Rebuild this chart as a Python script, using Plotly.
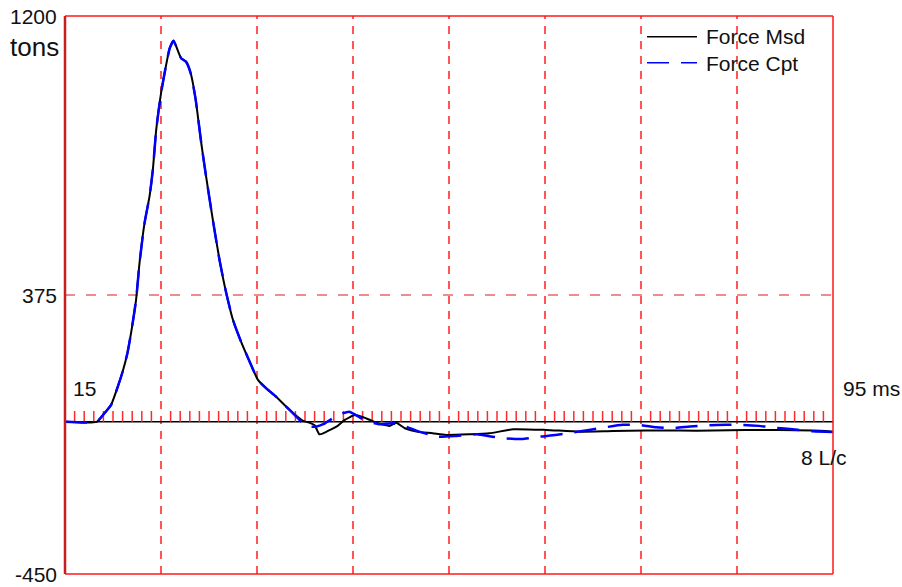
import plotly.graph_objects as go

# ---- data (time in ms, force in tons) ----
t_msd = [15, 18.3, 19.1, 19.8, 20.5, 21.0, 21.5, 21.9, 22.4, 22.76, 23.28, 23.8, 24.15, 24.5, 25.0,
         25.5, 25.9, 26.3, 26.6, 27.1, 27.6, 28.1, 28.6, 29.2, 29.7, 30.4, 31.1, 31.8, 32.5, 33.2,
         34.2, 35.1, 36.0, 37.0, 38.4, 39.8, 40.5, 41.0, 41.5, 41.9, 42.6, 43.4, 44.1, 45.2, 46.4,
         47.6, 48.8, 49.5, 50.4, 51.6, 53.3, 54.7, 57.2, 59.2, 61.7, 65.1, 68.6, 72.1, 75.5, 79.0,
         82.5, 85.9, 89.4, 92.9, 95]
f_msd = [0, 0, 25, 50, 104, 148, 203, 266, 360, 469, 587, 666, 745, 863, 971,
         1050, 1104, 1127, 1109, 1075, 1065, 1030, 955, 823, 725, 597, 478, 380, 301, 247,
         180, 124, 98, 74, 35, 3, -3, -10, -37, -34, -24, -12, 5, 20, 10,
         -4, -12, -3, -19, -29, -34, -39, -37, -34, -22, -24, -29, -27, -26, -26,
         -26, -24, -24, -26, -29]

t_cpt = [15, 18.3, 19.1, 19.8, 20.5, 21.0, 21.5, 21.9, 22.4, 22.76, 23.28, 23.8, 24.15, 24.5, 25.0,
         25.5, 25.9, 26.3, 26.6, 27.1, 27.6, 28.1, 28.6, 29.2, 29.7, 30.4, 31.1, 31.8, 32.5, 33.2,
         34.2, 35.1, 36.0, 37.0, 38.4, 39.8, 40.6, 41.2, 41.9, 42.6, 43.4, 44.6, 45.3, 46.2, 47.7,
         49.1, 50.5, 51.6, 53.8, 55.8, 57.9, 59.5, 60.9, 62.6, 64.4, 66.1, 67.8, 69.6, 71.3, 73.1,
         74.8, 76.6, 78.3, 80.1, 82.1, 83.9, 85.6, 87.3, 89.1, 90.8, 92.9, 95]
f_cpt = [0, 0, 25, 50, 104, 148, 203, 266, 360, 469, 587, 666, 745, 863, 971,
         1050, 1104, 1127, 1109, 1075, 1065, 1030, 955, 823, 725, 597, 478, 380, 301, 247,
         180, 124, 98, 74, 35, -4, -14, -14, -7, 5, 20, 30, 20, 5, -7,
         -4, -14, -26, -44, -42, -37, -44, -49, -51, -44, -39, -32, -24, -16, -9,
         -9, -16, -19, -14, -10, -9, -9, -12, -18, -22, -28, -30]

x_range = [15, 95]
y_range = [-450, 1200]
grid_times = [25, 35, 45, 55, 65, 75, 85]
grid_force = 375
tick_times = [t for t in range(16, 95) if t % 10 != 5]
tick_height = 32

# ---- layout geometry (pixels) ----
W, H = 902, 587
L, R, T, B = 65, 69, 16, 13
PW, PH = W - L - R, H - T - B


def px(x):
    return (x - L) / PW


def py(y):
    return (H - B - y) / PH


FONT = "Liberation Sans, Arial, sans-serif"

fig = go.Figure()

# small ms ticks on the zero line
tx, ty = [], []
for t in tick_times:
    tx += [t, t, None]
    ty += [0, tick_height, None]
fig.add_trace(go.Scatter(x=tx, y=ty, mode="lines", line=dict(color="#ff2a2a", width=1.5),
                         hoverinfo="skip", showlegend=False))

fig.add_trace(go.Scatter(x=t_msd, y=f_msd, mode="lines", name="Force Msd",
                         line=dict(color="black", width=2, shape="spline", smoothing=0.5),
                         showlegend=False))
fig.add_trace(go.Scatter(x=t_cpt, y=f_cpt, mode="lines", name="Force Cpt",
                         line=dict(color="#0000ff", width=2.5, dash="22px,12px",
                                   shape="spline", smoothing=0.5),
                         showlegend=False))

shapes = []
for g in grid_times:
    shapes.append(dict(type="line", xref="x", yref="y", x0=g, x1=g, y0=y_range[0], y1=y_range[1],
                       line=dict(color="#ff5555", width=2, dash="8px,7px"), layer="below"))
shapes.append(dict(type="line", xref="x", yref="y", x0=x_range[0], x1=x_range[1],
                   y0=grid_force, y1=grid_force,
                   line=dict(color="#d41c1c", width=1, dash="10px,11px"), layer="below"))
shapes.append(dict(type="line", xref="x", yref="y", x0=x_range[0], x1=x_range[1], y0=0, y1=0,
                   line=dict(color="black", width=1.5), layer="below"))
# frame
shapes.append(dict(type="line", xref="paper", yref="paper", x0=0, x1=1, y0=1, y1=1,
                   line=dict(color="#ff1a1a", width=1.5)))
shapes.append(dict(type="line", xref="paper", yref="paper", x0=0, x1=1, y0=0, y1=0,
                   line=dict(color="#ff1a1a", width=1.5)))
shapes.append(dict(type="line", xref="paper", yref="paper", x0=1, x1=1, y0=0, y1=1,
                   line=dict(color="#ff1a1a", width=1.5)))
shapes.append(dict(type="line", xref="paper", yref="paper", x0=0, x1=0, y0=0, y1=1,
                   line=dict(color="#c81e1e", width=2.5)))
# legend samples
shapes.append(dict(type="line", xref="paper", yref="paper", x0=px(647), x1=px(697),
                   y0=py(36.7), y1=py(36.7), line=dict(color="black", width=1.5)))
shapes.append(dict(type="line", xref="paper", yref="paper", x0=px(647), x1=px(697),
                   y0=py(62.7), y1=py(62.7), line=dict(color="#0000ff", width=1.5, dash="22px,12px")))

ann = []


def add_text(text, x, y, xanchor, size=21, yref="paper"):
    ann.append(dict(text=text, x=x, y=y, xref="paper", yref=yref, xanchor=xanchor,
                    yanchor="middle", showarrow=False,
                    font=dict(family=FONT, size=size, color="#111111")))


add_text(str(y_range[1]), px(59), y_range[1], "right", yref="y")
add_text(str(grid_force), px(59), grid_force, "right", yref="y")
add_text(str(y_range[0]), px(59), y_range[0], "right", yref="y")
add_text("tons", px(61), py(46.7), "right", size=26)
add_text(str(x_range[0]), px(71), py(388), "left")
add_text(f"{x_range[1]} ms", px(841), py(388), "left")
add_text("8 L/c", px(799), py(457), "left")
add_text("Force Msd", px(704), py(36.7), "left")
add_text("Force Cpt", px(704), py(63.3), "left")

fig.update_layout(
    width=W, height=H,
    margin=dict(l=L, r=R, t=T, b=B),
    paper_bgcolor="white", plot_bgcolor="white",
    xaxis=dict(range=x_range, visible=False, fixedrange=True),
    yaxis=dict(range=y_range, visible=False, fixedrange=True),
    shapes=shapes, annotations=ann, showlegend=False,
)

fig.write_html("out.html")
